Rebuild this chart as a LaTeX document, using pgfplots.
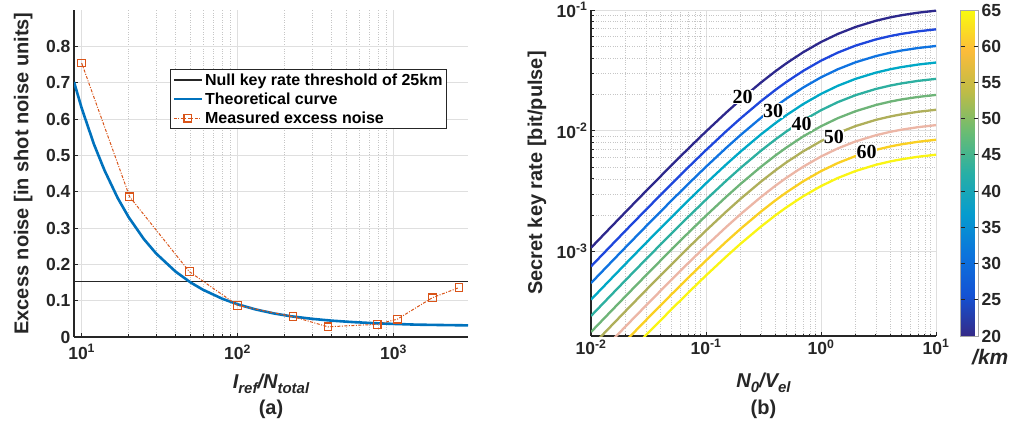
\documentclass[border=0pt]{standalone}
\usepackage{fontspec}
\setmainfont{Liberation Sans}
\newfontfamily\timesb{Liberation Serif}
\usepackage{pgfplots}
\pgfplotsset{compat=1.18}
\usepackage{pgfplotstable}

\definecolor{mblue}{rgb}{0,0.447,0.741}
\definecolor{morange}{rgb}{0.85,0.33,0.10}
\definecolor{axgray}{gray}{0.15}
\definecolor{k20}{RGB}{45,40,140}
\definecolor{k25}{RGB}{30,70,220}
\definecolor{k30}{RGB}{15,115,225}
\definecolor{k35}{RGB}{0,168,198}
\definecolor{k40}{RGB}{45,175,160}
\definecolor{k45}{RGB}{110,180,120}
\definecolor{k50}{RGB}{175,175,90}
\definecolor{k55}{RGB}{236,182,166}
\definecolor{k60}{RGB}{250,208,35}
\definecolor{k65}{RGB}{250,245,20}

\pgfplotsset{colormap={parulaish}{rgb255=(53,42,135) rgb255=(20,82,212) rgb255=(12,116,220) rgb255=(6,156,206) rgb255=(40,175,165) rgb255=(105,188,115) rgb255=(190,188,70) rgb255=(252,188,58) rgb255=(249,251,14)}}

% key rate vs N0/Vel, one column per distance (km)
\pgfplotstableread{
x      c20       c25       c30       c35       c40       c45       c50       c55       c60       c65
0.01   1.0752e-3 7.535e-4  5.485e-4  4.000e-4  2.931e-4  2.158e-4  1.626e-4  1.213e-4  9.18e-5   6.90e-5
0.015  1.6049e-3 1.1246e-3 8.187e-4  5.970e-4  4.374e-4  3.222e-4  2.427e-4  1.810e-4  1.370e-4  1.030e-4
0.02   2.1294e-3 1.4922e-3 1.0863e-3 7.922e-4  5.804e-4  4.275e-4  3.220e-4  2.402e-4  1.818e-4  1.367e-4
0.03   3.1631e-3 2.2165e-3 1.6136e-3 1.1767e-3 8.621e-4  6.349e-4  4.783e-4  3.568e-4  2.700e-4  2.030e-4
0.05   5.1714e-3 3.6238e-3 2.6381e-3 1.9238e-3 1.4095e-3 1.0381e-3 7.819e-4  5.833e-4  4.414e-4  3.319e-4
0.07   7.1047e-3 4.9785e-3 3.6243e-3 2.6430e-3 1.9365e-3 1.4262e-3 1.0742e-3 8.014e-4  6.065e-4  4.560e-4
0.1    9.873e-3  6.918e-3  5.036e-3  3.673e-3  2.691e-3  1.982e-3  1.493e-3  1.114e-3  8.43e-4   6.34e-4
0.15   0.014165  9.926e-3  7.226e-3  5.270e-3  3.861e-3  2.843e-3  2.142e-3  1.598e-3  1.209e-3  9.09e-4
0.2    0.018100  0.012683  9.233e-3  6.733e-3  4.933e-3  3.633e-3  2.737e-3  2.042e-3  1.545e-3  1.162e-3
0.3    0.025062  0.017562  0.012785  9.323e-3  6.831e-3  5.031e-3  3.789e-3  2.827e-3  2.139e-3  1.608e-3
0.4    0.031029  0.021743  0.015829  0.011543  8.457e-3  6.229e-3  4.691e-3  3.500e-3  2.649e-3  1.991e-3
0.5    0.036200  0.025367  0.018467  0.013467  9.867e-3  7.267e-3  5.473e-3  4.083e-3  3.090e-3  2.323e-3
0.7    0.044718  0.031335  0.022812  0.016635  0.012188  8.976e-3  6.761e-3  5.044e-3  3.817e-3  2.870e-3
1      0.0543    0.03805   0.0277    0.0202    0.0148    0.0109    8.21e-3   6.125e-3  4.635e-3  3.485e-3
1.4    0.06335   0.04439   0.03232   0.02357   0.01727   0.01272   9.578e-3  7.146e-3  5.408e-3  4.066e-3
2      0.0724    0.05073   0.03693   0.02693   0.01973   0.01453   0.010947  8.167e-3  6.180e-3  4.647e-3
3      0.08145   0.05708   0.04155   0.0303    0.0222    0.01635   0.012315  9.188e-3  6.953e-3  5.228e-3
4      0.08688   0.06088   0.04432   0.03232   0.02368   0.01744   0.013136  9.80e-3   7.416e-3  5.576e-3
5      0.0905    0.06342   0.04617   0.03367   0.02467   0.01817   0.013683  0.010208  7.725e-3  5.808e-3
7      0.095025  0.066588  0.048475  0.03535   0.0259    0.019075  0.014368  0.010719  8.111e-3  6.099e-3
10     0.09873   0.06918   0.05036   0.03673   0.02691   0.01982   0.01493   0.01114   0.00843   0.00634
}\keyrate

\newcommand{\tickfont}{\bfseries\fontsize{17.5}{17.5}\selectfont}
\newcommand{\labfont}{\bfseries\fontsize{20}{22}\selectfont}
\newcommand{\sub}[1]{\raisebox{-5pt}{\fontsize{15}{15}\selectfont #1}}

\begin{document}
\begin{tikzpicture}
\path[use as bounding box] (0,0) rectangle (1011pt,425pt);

% ---------- (a) ----------
\begin{axis}[
    at={(74pt,88pt)}, anchor=south west,
    scale only axis, width=394pt, height=327pt,
    xmode=log, xmin=8.93, xmax=3000,
    ymin=0, ymax=0.9,
    axis x line*=bottom, axis y line*=left,
    axis line style={axgray, line width=1.2pt},
    xtick={10,100,1000},
    xticklabels={10\textsuperscript{1},10\textsuperscript{2},10\textsuperscript{3}},
    xticklabel style={yshift=-4pt},
    ytick={0,0.1,...,0.8},
    yticklabel style={/pgf/number format/fixed, /pgf/number format/precision=1, /pgf/number format/assume math mode=true},
    tick label style={font=\tickfont, text=axgray},
    tick align=inside, tick style={axgray, line width=0.8pt},
    major tick length=4pt, minor tick length=2.5pt,
    grid=both,
    major grid style={gray!25, line width=0.8pt},
    minor grid style={gray!45, dotted, line width=0.7pt},
    minor y tick num=0,
    xlabel={\textit{I\sub{ref}/N\sub{total}}},
    xlabel style={font=\labfont, text=axgray, at={(axis description cs:0.5,-0.1437)}, anchor=center},
    ylabel={Excess noise [in shot noise units]},
    ylabel style={font=\labfont, text=axgray, at={(axis description cs:-0.129,0.5)}, anchor=center},
    legend style={at={(0.2437,0.8196)}, anchor=north west, draw=axgray, line width=1pt,
        font=\bfseries\fontsize{16}{20}\selectfont, inner sep=2pt, row sep=2pt},
    legend cell align=left,
    legend image code/.code={\draw[mark repeat=2,mark phase=2,#1] plot coordinates {(0pt,0pt) (14pt,0pt) (28pt,0pt)};},
    clip mode=individual,
]
\addplot[axgray, line width=1.2pt] coordinates {(8.93,0.152) (3000,0.152)};
\addlegendentry{Null key rate threshold of 25km}
\addplot[mblue, line width=2.6pt] coordinates {
(8.93,0.702) (10,0.630) (12,0.530) (14,0.459) (17,0.383) (20,0.330) (25,0.270)
(30,0.230) (40,0.180) (50,0.150) (60,0.130) (80,0.105) (100,0.090) (130,0.076)
(170,0.065) (220,0.057) (300,0.050) (400,0.045) (550,0.041) (750,0.038)
(1000,0.036) (1400,0.034) (2000,0.033) (3000,0.032)};
\addlegendentry{Theoretical curve}
\addplot[morange, line width=1pt, dash pattern=on 3pt off 1.5pt on 1pt off 1.5pt,
    mark=square, mark size=3.8pt, mark options={solid, line width=1.1pt}] coordinates {
(10,0.754) (20.3,0.386) (49,0.180) (100,0.087) (226,0.056) (380,0.028)
(785,0.035) (1057,0.049) (1770,0.108) (2625,0.136)};
\addlegendentry{Measured excess noise}
\node[font=\labfont, text=axgray] at (axis description cs:0.5,-0.220) {(a)};
\end{axis}

% ---------- (b) ----------
\begin{axis}[
    at={(591pt,89pt)}, anchor=south west,
    scale only axis, width=345pt, height=326pt,
    xmode=log, ymode=log,
    xmin=0.01, xmax=10, ymin=2e-4, ymax=0.1,
    axis x line*=bottom, axis y line*=left,
    axis line style={axgray, line width=1.2pt},
    xtick={0.01,0.1,1,10},
    xticklabels={10\textsuperscript{-2},10\textsuperscript{-1},10\textsuperscript{0},10\textsuperscript{1}},
    ytick={0.001,0.01,0.1},
    yticklabels={10\textsuperscript{-3},10\textsuperscript{-2},10\textsuperscript{-1}},
    tick label style={font=\tickfont, text=axgray},
    tick align=inside, tick style={axgray, line width=0.8pt},
    major tick length=4pt, minor tick length=2.5pt,
    grid=both,
    major grid style={gray!25, line width=0.8pt},
    minor grid style={gray!45, dotted, line width=0.7pt},
    xlabel={\textit{N\sub{0}/V\sub{el}}},
    xlabel style={font=\labfont, text=axgray, at={(axis description cs:0.5,-0.144)}, anchor=center},
    ylabel={Secret key rate [bit/pulse]},
    ylabel style={font=\labfont, text=axgray, at={(axis description cs:-0.1565,0.5)}, anchor=center},
    colormap name=parulaish,
    point meta min=20, point meta max=65,
    colorbar,
    colorbar style={
        at={(parent axis.north east)}, anchor=north west, xshift=16pt,
        scale only axis, width=17.6pt, height=326pt,
        ytick={20,25,...,65},
        yticklabel style={font=\tickfont, text=axgray, /pgf/number format/assume math mode=true},
        axis line style={gray!70, line width=0.8pt},
        tick style={axgray, line width=0.8pt}, tick align=inside,
        major tick length=4pt,
    },
    clip mode=individual,
]
\addplot[k20, line width=2.3pt] table[x=x, y=c20] {\keyrate};
\addplot[k25, line width=2.3pt] table[x=x, y=c25] {\keyrate};
\addplot[k30, line width=2.3pt] table[x=x, y=c30] {\keyrate};
\addplot[k35, line width=2.3pt] table[x=x, y=c35] {\keyrate};
\addplot[k40, line width=2.3pt] table[x=x, y=c40] {\keyrate};
\addplot[k45, line width=2.3pt] table[x=x, y=c45] {\keyrate};
\addplot[k50, line width=2.3pt] table[x=x, y=c50] {\keyrate};
\addplot[k55, line width=2.3pt] table[x=x, y=c55] {\keyrate};
\addplot[k60, line width=2.3pt] table[x=x, y=c60] {\keyrate};
\addplot[k65, line width=2.3pt] table[x=x, y=c65] {\keyrate};
\foreach \lx/\ly/\lt in {0.2085/0.0192/20, 0.383/0.01473/30, 0.679/0.01143/40, 1.297/0.00891/50, 2.497/0.00662/60}{
  \edef\tmp{\noexpand\node[fill=white, font=\noexpand\timesb\noexpand\bfseries\noexpand\fontsize{20}{20}\noexpand\selectfont, inner sep=0.3pt] at (axis cs:\lx,\ly) {\lt};}
  \tmp
}
\node[font=\labfont, text=axgray] at (axis description cs:0.5,-0.2239) {(b)};
\node[font=\bfseries\itshape\fontsize{21}{21}\selectfont, text=axgray, anchor=west, inner sep=0pt] at (axis description cs:1.1043,-0.0644) {/km};
\end{axis}
\end{tikzpicture}
\end{document}
